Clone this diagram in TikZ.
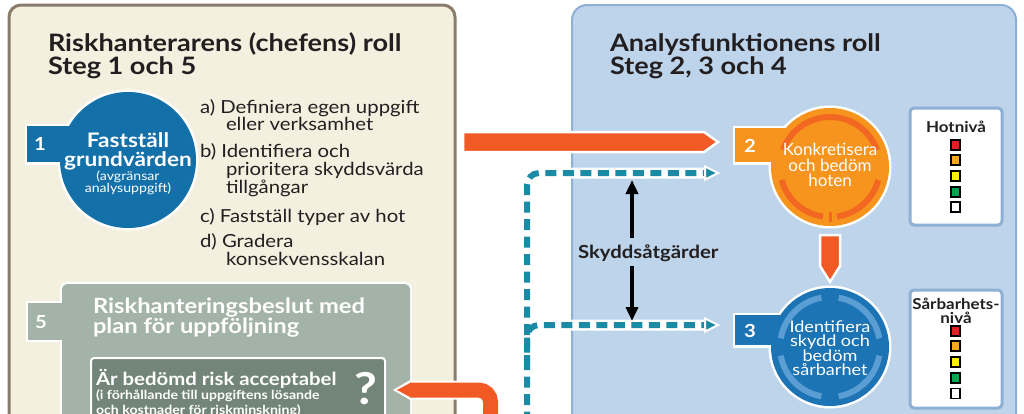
\documentclass[tikz,border=0pt]{standalone}
\usepackage{fontspec}
\setmainfont{Lato}[FakeStretch=1.13]
\newfontfamily\latoplain{Lato}
\usetikzlibrary{arrows.meta}
\definecolor{beige}{HTML}{F3F0E0}
\definecolor{beigeborder}{HTML}{8A7C6A}
\definecolor{panelblue}{HTML}{BED4EB}
\definecolor{panelborder}{HTML}{8EB0D5}
\definecolor{circblue}{HTML}{1370A8}
\definecolor{circblueB}{HTML}{1C74B4}
\definecolor{ringblue}{HTML}{5A9ED3}
\definecolor{circorange}{HTML}{F7941E}
\definecolor{ringorange}{HTML}{F26722}
\definecolor{arroworange}{HTML}{F15A24}
\definecolor{dashteal}{HTML}{1A8AA5}
\definecolor{graygreen}{HTML}{A3B3A7}
\definecolor{darkgreen}{HTML}{728578}
\definecolor{txt}{HTML}{231F20}
\definecolor{lvred}{HTML}{E31E24}
\definecolor{lvorange}{HTML}{F7A81B}
\definecolor{lvyellow}{HTML}{FFF200}
\definecolor{lvgreen}{HTML}{00A651}
\newcommand\fsz[1]{\fontsize{#1}{#1}\selectfont}
\tikzset{
  lbl/.style={inner sep=0pt, outer sep=0pt, text=txt},
  wlbl/.style={inner sep=0pt, outer sep=0pt, text=white},
  title/.style={lbl, anchor=base west, font=\fsz{24}\bfseries},
  item/.style={lbl, anchor=base west, font=\fsz{18}},
  lvsq/.style={draw=black, line width=1.2pt},
  dashbg/.style={draw=white, line width=11pt, rounded corners=12pt},
  dashfg/.style={draw=dashteal, line width=6pt, dash pattern=on 11pt off 6.5pt, rounded corners=12pt},
  dashhead/.style={fill=dashteal, draw=white, line width=2pt, line join=miter},
  orangeshape/.style={fill=arroworange, draw=white, line width=2.5pt, line join=miter},
  blackarrow/.style={draw=black, line width=4.5pt, -{Triangle[length=14pt,width=12pt]}},
}
\begin{document}
\begin{tikzpicture}[x=1pt,y=-1pt]
\useasboundingbox (0,0) rectangle (1024,413);
\fill[white] (0,0) rectangle (1024,413);

% panels
\draw[beigeborder, line width=3pt, fill=beige, rounded corners=12pt] (9,5) rectangle (455,440);
\draw[panelborder, line width=2pt, fill=panelblue, rounded corners=15pt] (572,5) rectangle (1016,440);

% titles
\node[title, text depth=0pt] (tl1) at (48,51) {Riskhanterarens (chefens) roll};
\node[title, text height=17pt] (tl2) at (48,74.5) {Steg 1 och 5};
\node[title, text depth=0pt] (tr1) at (610,51) {Analysfunktionens roll};
\node[title, text height=17pt] (tr2) at (610,74.5) {Steg 2, 3 och 4};

% step 1 circle
\draw[white, line width=5pt] (27,126) rectangle (100,162);
\draw[white, line width=5pt] (128,160) circle (68);
\fill[circblue] (27,126) rectangle (100,162);
\node[circle, fill=circblue, minimum size=136pt, inner sep=0pt] (c1) at (128,160) {};
\node[wlbl, anchor=base, font=\fsz{18}\bfseries] (n1) at (40,150) {1};
\node[wlbl, anchor=base, font=\fsz{20}\bfseries] (c1a) at (128,147) {Fastställ};
\node[wlbl, anchor=base, font=\fsz{20}\bfseries] (c1b) at (128,166) {grundvärden};
\node[wlbl, anchor=base, font=\fsz{12.5}] (c1c) at (128,180) {(avgränsar};
\node[wlbl, anchor=base, font=\fsz{12.5}] (c1d) at (128,192) {analysuppgift)};

% items
\node[item] (ia1) at (200,113) {a) Definiera egen uppgift};
\node[item] (ia2) at (226,130) {eller verksamhet};
\node[item] (ib1) at (200,157) {b) Identifiera och};
\node[item] (ib2) at (226,175) {prioritera skyddsvärda};
\node[item] (ib3) at (226,193) {tillgångar};
\node[item] (ic1) at (200,222) {c) Fastställ typer av hot};
\node[item] (id1) at (200,247) {d) Gradera};
\node[item] (id2) at (226,265) {konsekvensskalan};

% step 5 box
\draw[white, line width=4pt] (28,303) rectangle (70,340);
\draw[white, line width=4pt, rounded corners=5pt] (62,284) rectangle (410,440);
\fill[graygreen] (28,303) rectangle (70,340);
\fill[graygreen, rounded corners=5pt] (62,284) rectangle (410,440);
\node[wlbl, anchor=base, font=\fsz{18}\bfseries] (n5) at (41,328) {5};
\node[wlbl, anchor=base west, font=\fsz{21}\bfseries, text depth=0pt] (b5a) at (93,313) {Riskhanteringsbeslut med};
\node[wlbl, anchor=base west, font=\fsz{21}\bfseries, text height=15pt] (b5b) at (93,333) {plan för uppföljning};
\draw[white, line width=2pt, fill=darkgreen, rounded corners=3pt] (91,358) rectangle (385,440);
\node[wlbl, anchor=base west, font=\fsz{18}\bfseries, text depth=0pt] (q1) at (96,385) {Är bedömd risk acceptabel};
\node[wlbl, anchor=base west, font=\fsz{12.5}\bfseries, text depth=0pt, text height=9pt] (q2) at (96,399) {(i förhållande till uppgiftens lösande};
\node[wlbl, anchor=base west, font=\fsz{12.5}\bfseries, text height=9pt] (q3) at (96,414) {och kostnader för riskminskning)};
\node[wlbl, anchor=base, font=\fsz{44}\bfseries] (qm) at (366,404) {?};

% orange return arrow (bottom)
\coordinate (ubot) at (490.5,440);
\coordinate (ucorner) at (490.5,390);
\coordinate (uend) at (410,390);
\draw[white, line width=19pt, rounded corners=12pt] (ubot) -- (ucorner) -- (uend);
\fill[white] (411,379.5) -- (393,390) -- (411,400.5) -- cycle;
\draw[arroworange, line width=15pt, rounded corners=12pt] (ubot) -- (ucorner) -- (uend);
\fill[arroworange] (411,382.5) -- (397,390) -- (411,397.5) -- cycle;

% main orange arrow
\coordinate (ma) at (463,142);
\draw[orangeshape] (ma) ++(0,-10) -- (704,132) -- (718,142) -- (704,152) -- (463,152) -- cycle;

% dashed teal connectors
\coordinate (dbot) at (527,440);
\coordinate (dc1) at (527,173);
\coordinate (de1) at (706,173);
\coordinate (db) at (527,362);
\coordinate (dc2) at (527,325);
\coordinate (de2) at (706,325);
\draw[dashbg] (dbot) -- (dc1) -- (de1);
\draw[dashbg] (db) -- (dc2) -- (de2);
\draw[dashfg] (dbot) -- (dc1) -- (de1);
\draw[dashfg, dash phase=4pt] (db) -- (dc2) -- (de2);
\draw[dashhead] (705,166.5) -- (718,173) -- (705,179.5) -- cycle;
\draw[dashhead] (705,318.5) -- (718,325) -- (705,331.5) -- cycle;

% black double arrow
\node[lbl, anchor=base west, font=\fsz{18}\bfseries] (sk) at (578,258) {Skyddsåtgärder};
\coordinate (bk1) at (632,238);
\coordinate (bk2) at (632,180);
\coordinate (bk3) at (632,266);
\coordinate (bk4) at (632,321);
\draw[blackarrow] (bk1) -- (bk2);
\draw[blackarrow] (bk3) -- (bk4);

% step 2 circle
\draw[white, line width=5pt] (735,128) rectangle (800,162);
\draw[white, line width=5pt] (830,167) circle (59);
\fill[circorange] (735,128) rectangle (800,162);
\node[circle, fill=circorange, minimum size=118pt, inner sep=0pt] (c2) at (830,167) {};
\draw[ringorange, line width=6pt] (830,167) ++(-160:50) arc (-160:-20:50);
\draw[ringorange, line width=6pt] (830,167) ++(15:50) arc (15:82:50);
\draw[ringorange, line width=6pt] (830,167) ++(98:50) arc (98:165:50);
\draw[ringorange, line width=3pt] (830,212) -- (830,222);
\node[wlbl, anchor=base, font=\fsz{18}\bfseries] (n2) at (750,152) {2};
\node[wlbl, anchor=base, font=\latoplain\fsz{17}] (c2a) at (830,155) {Konkretisera};
\node[wlbl, anchor=base, font=\latoplain\fsz{17}] (c2b) at (830,171) {och bedöm};
\node[wlbl, anchor=base, font=\latoplain\fsz{17}] (c2c) at (830,186) {hoten};

% down arrow
\draw[orangeshape] (820,235) -- (840,235) -- (840,266) -- (830,282) -- (820,266) -- cycle;

% step 3 circle
\draw[white, line width=5pt] (735,315) rectangle (800,345);
\draw[white, line width=5pt] (830,347) circle (59);
\fill[circblueB] (735,315) rectangle (800,345);
\node[circle, fill=circblueB, minimum size=118pt, inner sep=0pt] (c3) at (830,347) {};
\draw[ringblue, line width=6pt] (830,347) ++(-170:50) arc (-170:-100:50);
\draw[ringblue, line width=6pt] (830,347) ++(-80:50) arc (-80:-10:50);
\draw[ringblue, line width=6pt] (830,347) ++(10:50) arc (10:80:50);
\draw[ringblue, line width=6pt] (830,347) ++(100:50) arc (100:170:50);
\node[wlbl, anchor=base, font=\fsz{18}\bfseries] (n3) at (750,337) {3};
\node[wlbl, anchor=base, font=\fsz{16}] (c3a) at (830,332) {Identifiera};
\node[wlbl, anchor=base, font=\fsz{16}] (c3b) at (830,346) {skydd och};
\node[wlbl, anchor=base, font=\fsz{16}] (c3c) at (830,361) {bedöm};
\node[wlbl, anchor=base, font=\fsz{16}] (c3d) at (830,375) {sårbarhet};

% level boxes
\draw[panelborder, line width=3pt, fill=white, rounded corners=4pt] (910,108) rectangle (1002,225);
\node[lbl, anchor=base, font=\fsz{15}\bfseries] (hn) at (956,132) {Hotnivå};
\draw[lvsq, fill=lvred] (951,140) rectangle (960,150);
\draw[lvsq, fill=lvorange] (951,155) rectangle (960,165);
\draw[lvsq, fill=lvyellow] (951,171) rectangle (960,181);
\draw[lvsq, fill=lvgreen] (951,187) rectangle (960,197);
\draw[lvsq, fill=white] (951,202) rectangle (960,212);

\draw[panelborder, line width=3pt, fill=white, rounded corners=4pt] (910,290) rectangle (1002,408);
\node[lbl, anchor=base, font=\fsz{15}\bfseries, text depth=0pt] (sn1) at (956,309.5) {Sårbarhets-};
\node[lbl, anchor=base, font=\fsz{15}\bfseries, text height=9.5pt] (sn2) at (956,323) {nivå};
\draw[lvsq, fill=lvred] (951,326) rectangle (960,336);
\draw[lvsq, fill=lvorange] (951,341) rectangle (960,351);
\draw[lvsq, fill=lvyellow] (951,357) rectangle (960,367);
\draw[lvsq, fill=lvgreen] (951,373) rectangle (960,383);
\draw[lvsq, fill=white] (951,388.5) rectangle (960,398.5);
\end{tikzpicture}
\end{document}
